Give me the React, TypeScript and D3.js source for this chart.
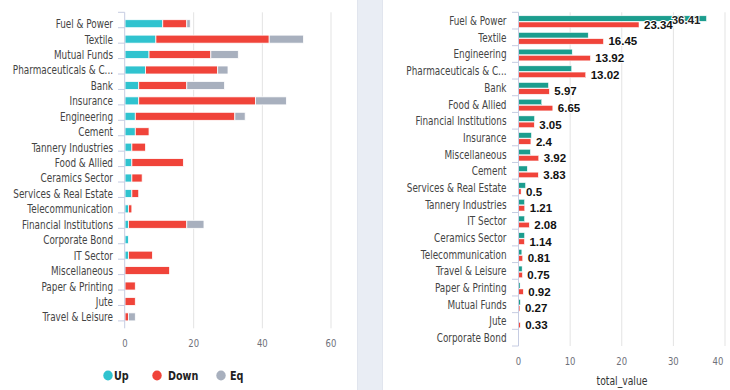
import * as d3 from "d3";

// left chart: advance / decline / unchanged counts per sector
const sectorsL = [
  "Fuel & Power", "Textile", "Mutual Funds", "Pharmaceuticals & Chemicals", "Bank",
  "Insurance", "Engineering", "Cement", "Tannery Industries", "Food & Allied",
  "Ceramics Sector", "Services & Real Estate", "Telecommunication", "Financial Institutions",
  "Corporate Bond", "IT Sector", "Miscellaneous", "Paper & Printing", "Jute", "Travel & Leisure",
];
const upL = [11, 9, 7, 6, 4, 4, 3, 3, 2, 2, 2, 2, 1, 1, 1, 1, 0, 0, 0, 0];
const downL = [7, 33, 18, 21, 14, 34, 29, 4, 4, 15, 3, 2, 1, 17, 0, 7, 13, 3, 3, 1];
const eqL = [1, 10, 8, 3, 11, 9, 3, 0, 0, 0, 0, 0, 0, 5, 0, 0, 0, 0, 0, 2];
const ticksL = [0, 20, 40, 60];

// right chart: total_value per sector (two series)
const sectorsR = [
  "Fuel & Power", "Textile", "Engineering", "Pharmaceuticals & Chemicals", "Bank",
  "Food & Allied", "Financial Institutions", "Insurance", "Miscellaneous", "Cement",
  "Services & Real Estate", "Tannery Industries", "IT Sector", "Ceramics Sector",
  "Telecommunication", "Travel & Leisure", "Paper & Printing", "Mutual Funds", "Jute", "Corporate Bond",
];
const greenR = [36.41, 13.5, 10.4, 10.3, 5.8, 4.5, 3.1, 2.5, 2.3, 1.7, 1.36, 1.17, 1.17, 1.17, 0.65, 0.7, 0.3, 0.35, 0, 0];
const redR = [23.34, 16.45, 13.92, 13.02, 5.97, 6.65, 3.05, 2.4, 3.92, 3.83, 0.5, 1.21, 2.08, 1.14, 0.81, 0.75, 0.92, 0.27, 0.33, 0];
const ticksR = [0, 10, 20, 30, 40];

const C_UP = "#30c3cf";
const C_DOWN = "#f0443a";
const C_EQ = "#a8b0be";
const C_GREEN = "#1c9d8e";
const AXIS = "#c6cce2";
const GRID = "#e3e3e3";
const FONT = "'DejaVu Sans', sans-serif";
const BOLD_FONT = "'Liberation Sans', Arial, sans-serif";
const SQUEEZE = 0.77; // the source font is a narrow one

const W = 730;
const H = 390;

const short = (s: string) => (s.length > 22 ? s.slice(0, 19) + "..." : s);

// text squeezed horizontally around its anchor point
function NText({ x, y, anchor = "start", size = 11.5, fill = "#444", bold = false, children }: any) {
  return (
    <text
      transform={`translate(${x},${y}) scale(${SQUEEZE},1)`}
      textAnchor={anchor}
      dominantBaseline="central"
      fontSize={size}
      fontWeight={bold ? "bold" : "normal"}
      fill={fill}
      fontFamily={FONT}
    >
      {children}
    </text>
  );
}

function LeftChart() {
  const x = d3.scaleLinear().domain([0, 60]).range([125, 331]);
  const y = d3.scaleBand().domain(sectorsL).range([12.3, 328.3]).padding(0.48);
  const step = y.step();
  const rows = sectorsL.map((s, i) => ({ sector: s, up: upL[i], down: downL[i], eq: eqL[i] }));
  const series = d3.stack<any>().keys(["up", "down", "eq"])(rows);
  const colors: Record<string, string> = { up: C_UP, down: C_DOWN, eq: C_EQ };
  const legend = [
    { name: "Up", color: C_UP, cx: 108, tx: 114 },
    { name: "Down", color: C_DOWN, cx: 157, tx: 168 },
    { name: "Eq", color: C_EQ, cx: 221, tx: 230 },
  ];
  return (
    <g>
      {ticksL.slice(1).map((t) => (
        <line key={t} x1={x(t)} x2={x(t)} y1={12.3} y2={328.3} stroke={GRID} />
      ))}
      {series.map((s) =>
        s.map((d, i) =>
          d[1] - d[0] > 0 ? (
            <rect
              key={s.key + i}
              x={x(d[0])}
              y={y(sectorsL[i])!}
              width={x(d[1]) - x(d[0])}
              height={y.bandwidth()}
              fill={colors[s.key]}
              stroke="#fff"
              strokeWidth={0.8}
            />
          ) : null
        )
      )}
      <line x1={124.7} x2={124.7} y1={12.3} y2={328.3} stroke={AXIS} />
      {d3.range(sectorsL.length + 1).map((i) => (
        <line key={i} x1={118} x2={124.7} y1={12.3 + i * step} y2={12.3 + i * step} stroke={AXIS} />
      ))}
      {sectorsL.map((s) => (
        <NText key={s} x={113} y={y(s)! + y.bandwidth() / 2} anchor="end">
          {short(s)}
        </NText>
      ))}
      {ticksL.map((t) => (
        <NText key={t} x={x(t)} y={343} anchor="middle" size={11} fill="#6e7079">
          {t}
        </NText>
      ))}
      {legend.map((l) => (
        <g key={l.name}>
          <ellipse cx={l.cx} cy={375.5} rx={4.7} ry={5} fill={l.color} />
          <NText x={l.tx} y={376} size={12.5} bold fill="#222">
            {l.name}
          </NText>
        </g>
      ))}
    </g>
  );
}

function RightChart() {
  const x0 = 518.5;
  const x = d3.scaleLinear().domain([0, 40]).range([x0, 725]);
  const y = d3.scaleBand().domain(sectorsR).range([12.3, 346]).paddingInner(0.3).paddingOuter(0.15);
  const sub = d3.scaleBand().domain(["g", "r"]).range([0, y.bandwidth()]).paddingInner(0.12);
  const step = y.step();
  const halo = { stroke: "#fff", strokeWidth: 2, paintOrder: "stroke" } as any;
  return (
    <g>
      {ticksR.slice(1).map((t) => (
        <line key={t} x1={x(t)} x2={x(t)} y1={12.3} y2={346} stroke={GRID} />
      ))}
      {sectorsR.map((s, i) => (
        <g key={s}>
          {greenR[i] > 0 && (
            <rect x={x(0)} y={y(s)! + sub("g")! + 1} width={x(greenR[i]) - x(0)} height={sub.bandwidth()}
              fill={C_GREEN} stroke="#fff" strokeWidth={0.5} />
          )}
          {redR[i] > 0 && (
            <rect x={x(0)} y={y(s)! + sub("r")! + 1} width={x(redR[i]) - x(0)} height={sub.bandwidth()}
              fill={C_DOWN} stroke="#fff" strokeWidth={0.5} />
          )}
          {greenR[i] > 30 && (
            <text x={x(greenR[i]) - 6} y={y(s)! + sub("g")! + sub.bandwidth() / 2 + 2} textAnchor="end"
              dominantBaseline="central" fontSize={11.5} fontWeight="bold" fill="#222" fontFamily={BOLD_FONT}
              {...halo}>
              {greenR[i]}
            </text>
          )}
          {redR[i] > 0 && (
            <text x={x(redR[i]) + 5} y={y(s)! + sub("r")! + sub.bandwidth() / 2 + 1}
              dominantBaseline="central" fontSize={11.5} fontWeight="bold" fill="#111" fontFamily={BOLD_FONT}
              {...halo}>
              {redR[i]}
            </text>
          )}
        </g>
      ))}
      <line x1={x0} x2={x0} y1={12.3} y2={346} stroke={AXIS} />
      {d3.range(sectorsR.length + 1).map((i) => (
        <line key={i} x1={512} x2={x0} y1={12.3 + i * step} y2={12.3 + i * step} stroke={AXIS} />
      ))}
      {sectorsR.map((s) => (
        <NText key={s} x={506.5} y={y(s)! + y.bandwidth() / 2} anchor="end">
          {short(s)}
        </NText>
      ))}
      {ticksR.map((t) => (
        <NText key={t} x={Math.min(x(t), W - 12)} y={361} anchor="middle" size={11} fill="#6e7079">
          {t}
        </NText>
      ))}
      <NText x={622} y={381} anchor="middle" size={12} fill="#333">
        total_value
      </NText>
    </g>
  );
}

export default function App() {
  return (
    <svg width={W} height={H} style={{ position: "absolute", left: 0, top: 0 }}>
      <rect x={0} y={0} width={W} height={H} fill="#fff" />
      <rect x={357} y={0} width={26} height={H} fill="#e9edf4" />
      <line x1={357.5} x2={357.5} y1={0} y2={H} stroke="#e1e5ee" />
      <line x1={382.5} x2={382.5} y1={0} y2={H} stroke="#e1e5ee" />
      <LeftChart />
      <RightChart />
    </svg>
  );
}
